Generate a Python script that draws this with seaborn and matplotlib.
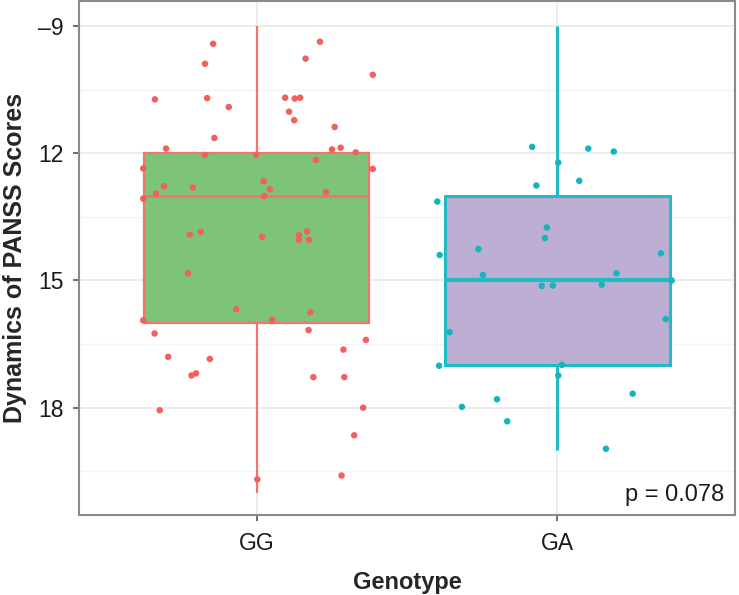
import numpy as np
import pandas as pd
import matplotlib
matplotlib.use("Agg")
import matplotlib.pyplot as plt
import seaborn as sns

# ---------------- data ----------------
genotypes = ["GG", "GA"]

# five-number summaries of each box (whisker low, Q1, median, Q3, whisker high)
box_gg = [9, 12, 13, 16, 20]
box_ga = [9, 13, 15, 17, 19]

# jittered observations: values and horizontal jitter offsets
gg_values = [9.42, 9.89, 10.73, 10.70, 10.91, 11.64, 11.89, 12.04, 9.37, 9.77,
             10.15, 10.69, 10.71, 10.69, 11.02, 11.22, 11.38, 11.91, 11.87, 11.98,
             12.04, 12.16, 12.36, 12.37, 12.78, 12.81, 12.95, 12.66, 12.85, 13.01,
             12.92, 13.07, 13.92, 13.85, 13.97, 13.93, 14.04, 13.84, 14.04, 14.83,
             15.68, 15.75, 15.92, 15.94, 16.25, 16.17, 16.40, 16.63, 16.80, 16.85,
             17.24, 17.19, 17.28, 17.28, 18.06, 18.00, 18.65, 19.60, 19.69]
gg_jitter = [-0.146, -0.173, -0.340, -0.166, -0.094, -0.142, -0.303, -0.173, 0.210, 0.162,
             0.386, 0.094, 0.126, 0.144, 0.107, 0.124, 0.259, 0.250, 0.279, 0.329,
             -0.003, 0.196, -0.379, 0.386, -0.310, -0.214, -0.336, 0.022, 0.043, 0.024,
             0.230, -0.379, -0.224, -0.187, 0.017, 0.140, 0.140, 0.167, 0.173, -0.230,
             -0.069, 0.178, 0.051, -0.379, -0.341, 0.172, 0.363, 0.288, -0.296, -0.157,
             -0.218, -0.203, 0.188, 0.291, -0.324, 0.354, 0.324, 0.282, 0.001]

ga_values = [11.85, 11.89, 11.96, 12.22, 12.76, 12.65, 13.14, 13.75, 14.00, 14.26,
             14.40, 14.36, 14.87, 14.83, 15.13, 15.12, 15.10, 15.00, 16.22, 15.91,
             17.01, 16.99, 17.24, 17.67, 17.80, 17.98, 18.32, 18.97]
ga_jitter = [-0.083, 0.104, 0.189, 0.004, -0.069, 0.074, -0.399, -0.034, -0.040, -0.262,
             -0.391, 0.346, -0.247, 0.198, -0.051, -0.014, 0.149, 0.382, -0.358, 0.362,
             -0.393, 0.016, 0.004, 0.252, -0.200, -0.317, -0.166, 0.163]

y_ticks = [9, 12, 15, 18]
y_tick_labels = ["\u20139", "12", "15", "18"]
p_text = "p = 0.078"

# ---------------- styling ----------------
fills = {"GG": "#7DC47A", "GA": "#BDAED3"}
edges = {"GG": "#F2746D", "GA": "#1FBCC4"}
points = {"GG": "#F0615C", "GA": "#14B5BD"}
box_lw = {"GG": 1.6, "GA": 2.2}
med_lw = {"GG": 2.0, "GA": 3.0}

sns.set_theme(style="white")
plt.rcParams["font.family"] = ["Liberation Sans", "DejaVu Sans"]

fig = plt.figure(figsize=(7.39, 5.95), dpi=100)
ax = fig.add_axes([79 / 739, 1 - 515 / 595, (735 - 79) / 739, (515 - 1) / 595])

box_df = pd.DataFrame({
    "Genotype": ["GG"] * len(box_gg) + ["GA"] * len(box_ga),
    "value": box_gg + box_ga,
})

for g in genotypes:
    sub = box_df[box_df["Genotype"] == g]
    sns.boxplot(data=sub, x="Genotype", y="value", order=genotypes, ax=ax,
                color=fills[g], linecolor=edges[g], width=0.75, linewidth=box_lw[g],
                showcaps=False, fliersize=0, saturation=1,
                medianprops={"linewidth": med_lw[g], "color": edges[g]},
                zorder=2)

pts = pd.DataFrame({
    "x": [0 + j for j in gg_jitter] + [1 + j for j in ga_jitter],
    "y": gg_values + ga_values,
    "Genotype": ["GG"] * len(gg_values) + ["GA"] * len(ga_values),
})
sns.scatterplot(data=pts, x="x", y="y", hue="Genotype", palette=points,
                s=22, linewidth=0, legend=False, ax=ax, zorder=3)

ax.set_xlim(-0.593, 1.593)
ax.set_ylim(20.53, 8.41)
ax.set_xticks([0, 1])
ax.set_xticklabels(genotypes)
ax.set_yticks(y_ticks)
ax.set_yticklabels(y_tick_labels)
ax.set_yticks([10.5, 13.5, 16.5, 19.5], minor=True)

ax.grid(True, which="major", color="#EBEBEB", linewidth=1.3, zorder=0)
ax.grid(True, which="minor", axis="y", color="#F3F3F3", linewidth=1.0, zorder=0)
ax.set_axisbelow(True)

for side in ["left", "bottom", "top", "right"]:
    ax.spines[side].set_visible(True)
    ax.spines[side].set_color("#8A8A8A")
    ax.spines[side].set_linewidth(1.5)

ax.tick_params(axis="both", which="major", length=4, width=1.2, color="#555555",
               labelsize=16.5, labelcolor="#1A1A1A", left=True, bottom=True)
ax.tick_params(axis="x", which="major", pad=8)
ax.tick_params(axis="y", which="major", pad=7)
ax.tick_params(axis="y", which="minor", length=0)

ax.set_xlabel("Genotype", fontsize=17, fontweight="bold", labelpad=12)
ax.set_ylabel("Dynamics of PANSS Scores", fontsize=18, fontweight="bold", labelpad=8)

ax.text(1.557, 20.06, p_text, ha="right", va="center", fontsize=17, color="#1A1A1A")

fig.savefig("out.png", dpi=100)
